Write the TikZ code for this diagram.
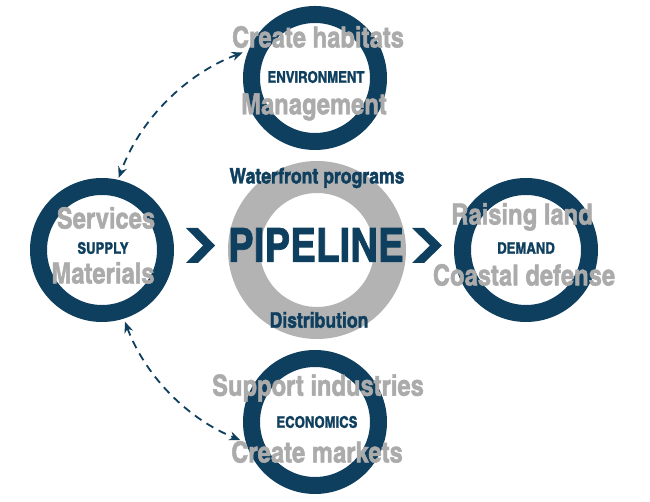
\documentclass[tikz,border=0pt]{standalone}
\usepackage{fontspec}
\newfontfamily\cnfont{texgyreheroscn-bold}[Extension=.otf,FakeBold=1.6]
\usetikzlibrary{arrows.meta,calc}
\definecolor{navy}{HTML}{0F3F5E}
\definecolor{lgray}{HTML}{ABABAB}
\definecolor{rgray}{HTML}{B3B3B3}
\tikzset{
  ring/.style={circle,draw=navy,line width=17pt,minimum size=127pt,inner sep=0pt},
  pring/.style={circle,draw=rgray,line width=32pt,minimum size=146pt,inner sep=0pt},
  bigtxt/.style={text=lgray,font=\cnfont\fontsize{29}{29}\selectfont,inner sep=0pt},
  captxt/.style={text=navy,font=\cnfont\fontsize{16}{16}\selectfont,inner sep=0pt},
  midtxt/.style={text=navy,font=\cnfont\fontsize{21.5}{21.5}\selectfont,inner sep=0pt},
  pipetxt/.style={text=navy,font=\cnfont\fontsize{47}{47}\selectfont,inner sep=0pt},
  chev/.style={fill=navy,draw=none},
  link/.style={draw=navy,line width=1.8pt,dash pattern=on 8pt off 6pt,
    {Stealth[length=11pt,width=9pt]}-{Stealth[length=11pt,width=9pt]}}
}
\begin{document}
\begin{tikzpicture}[x=1pt,y=1pt]
\useasboundingbox (0,0) rectangle (650,502);
% rings
\node[ring] (env) at (315,424) {};
\node[ring] (sup) at (102,252) {};
\node[ring] (dem) at (526,252) {};
\node[ring] (eco) at (315,80) {};
\node[pring] (pipe) at (317,252) {};
% chevrons
\fill[chev] (186,274) -- (198,274) -- (215,256.5) -- (198,239) -- (186,239) -- (203,256.5) -- cycle;
\fill[chev] (412,274) -- (424,274) -- (442,256.5) -- (424,239) -- (412,239) -- (430,256.5) -- cycle;
% dashed links
\coordinate (t1) at ($(pipe.center)+(110.6:211)$);
\coordinate (t2) at ($(pipe.center)+(160:211)$);
\coordinate (b1) at ($(pipe.center)+(200.5:205)$);
\coordinate (b2) at ($(pipe.center)+(248:205)$);
\draw[link] (t1) arc[start angle=110.6,end angle=160,radius=211];
\draw[link] (b1) arc[start angle=200.5,end angle=248,radius=205];
% texts
\node[bigtxt] (envA) at (318,465) {Create habitats};
\node[captxt] (envL) at (316,425) {ENVIRONMENT};
\node[bigtxt] (envB) at (314,395) {Management};
\node[bigtxt] (supA) at (106,284) {Services};
\node[captxt] (supL) at (103,254) {SUPPLY};
\node[bigtxt] (supB) at (103,229) {Materials};
\node[bigtxt] (demA) at (522,285) {Raising land};
\node[captxt] (demL) at (526,254) {DEMAND};
\node[bigtxt] (demB) at (524,227) {Coastal defense};
\node[bigtxt] (ecoA) at (318,114) {Support industries};
\node[captxt] (ecoL) at (317,80) {ECONOMICS};
\node[bigtxt] (ecoB) at (317,50) {Create markets};
\node[midtxt] (wf) at (317,324) {Waterfront programs};
\node[pipetxt] (pl) at (316,257) {PIPELINE};
\node[midtxt] (dist) at (319,182) {Distribution};
\end{tikzpicture}
\end{document}
